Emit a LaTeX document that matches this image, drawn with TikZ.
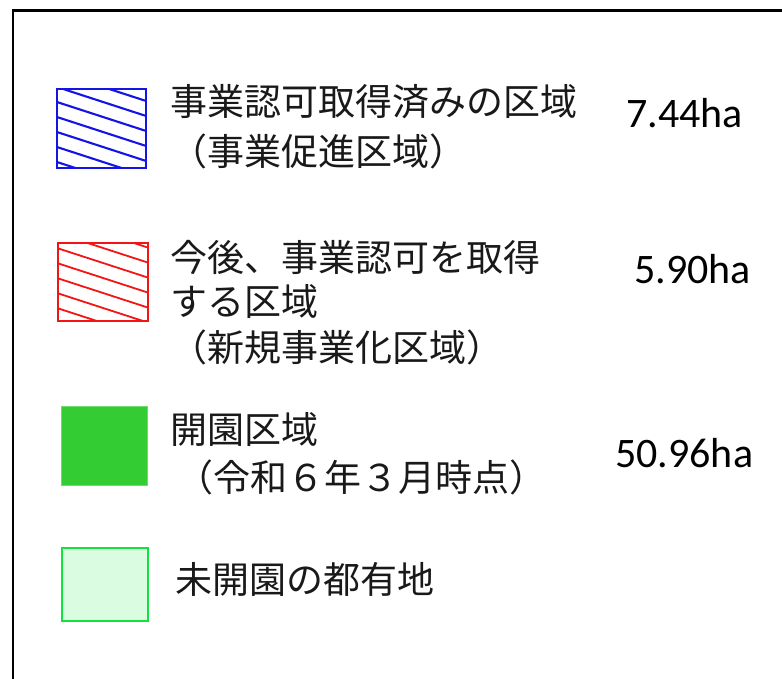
\documentclass[tikz,border=0pt]{standalone}
\usepackage{fontspec}
\newfontfamily\jpfont{Noto Sans CJK JP}
\newfontfamily\numfont{Carlito}
\definecolor{darkgreen}{RGB}{51,204,51}
\definecolor{darkgreenedge}{RGB}{110,220,110}
\definecolor{lightgreen}{RGB}{218,252,224}
\definecolor{lightgreenedge}{RGB}{20,226,60}
\definecolor{hblue}{RGB}{20,20,230}
\definecolor{hred}{RGB}{245,20,20}
\tikzset{
  jp/.style={font=\jpfont\fontsize{37}{44}\selectfont, inner sep=0pt, anchor=base west, text=black!90},
  num/.style={font=\numfont\fontsize{42}{50}\selectfont, inner sep=0pt, anchor=base west},
}
\begin{document}
\begin{tikzpicture}[x=1pt,y=-1pt]
\useasboundingbox (0,0) rectangle (782,678);
% frame
\draw[line width=2.5pt] (13,720) -- (13,10.5) -- (820,10.5);

% blue hatched box
\begin{scope}
\clip (56,88) rectangle (145,167);
\foreach \k in {-6,...,6}
  \draw[hblue, line width=2.1pt] (20,{75+\k*15}) -- ++(160,52);
\end{scope}
\node[draw=hblue, line width=1.5pt, minimum width=89pt, minimum height=79pt, inner sep=0pt, anchor=north west] (bluebox) at (56,88) {};

% red hatched box
\begin{scope}
\clip (57,242) rectangle (147,320);
\foreach \k in {-6,...,6}
  \draw[hred, line width=1.8pt] (20,{221+\k*15}) -- ++(160,52);
\end{scope}
\node[draw=hred, line width=1.8pt, minimum width=90pt, minimum height=78pt, inner sep=0pt, anchor=north west] (redbox) at (57,242) {};

% dark green box
\node[fill=darkgreen, draw=darkgreenedge, line width=0.8pt, minimum width=86pt, minimum height=79pt, inner sep=0pt, anchor=north west] (greenbox) at (60.5,405.5) {};

% light green box
\node[fill=lightgreen, draw=lightgreenedge, line width=2.8pt, minimum width=86pt, minimum height=73pt, inner sep=0pt, anchor=north west] (lightbox) at (60.5,546.5) {};

% texts
\node[jp] (t1a) at (170,115.5) {事業認可取得済みの区域};
\node[jp] (t1b) at (170,165) {（事業促進区域）};
\node[num] (n1) at (626,127) {7.44ha};

\node[jp] (t2a) at (170,271) {今後、事業認可を取得};
\node[jp] (t2b) at (170,315) {する区域};
\node[jp] (t2c) at (170,361) {（新規事業化区域）};
\node[num] (n2) at (634,283) {5.90ha};

\node[jp] (t3a) at (170,443) {開園区域};
\node[jp] (t3b) at (176,491) {（令和６年３月時点）};
\node[num] (n3) at (615,467) {50.96ha};

\node[jp] (t4) at (175,593) {未開園の都有地};
\end{tikzpicture}
\end{document}
